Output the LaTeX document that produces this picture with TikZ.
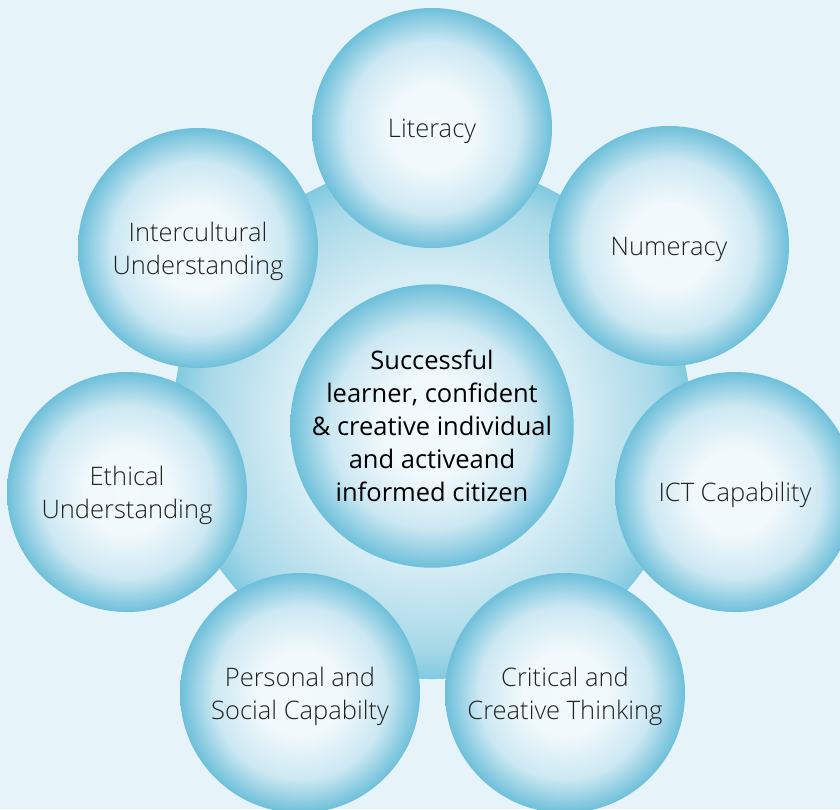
\documentclass[tikz,border=0pt]{standalone}
\usepackage{fontspec}
\setmainfont{Open Sans}
\newfontfamily\lightfont{Open Sans Light}
\definecolor{bg}{HTML}{E6F3F9}
\definecolor{txt}{HTML}{222222}
\pgfdeclareradialshading{bubble}{\pgfpointorigin}{rgb(0bp)=(0.95,0.98,0.99); rgb(9bp)=(0.94,0.975,0.985); rgb(18bp)=(0.80,0.91,0.95); rgb(25bp)=(0.43,0.75,0.855); rgb(50bp)=(0.43,0.75,0.855)}
\pgfdeclareradialshading{bigbubble}{\pgfpointorigin}{rgb(0bp)=(0.90,0.96,0.98); rgb(14bp)=(0.84,0.93,0.96); rgb(22bp)=(0.66,0.85,0.91); rgb(25bp)=(0.50,0.79,0.88); rgb(50bp)=(0.50,0.79,0.88)}
\tikzset{
  outer/.style={circle, inner sep=0pt, minimum size=240pt, shading=bubble},
  hub/.style={circle, inner sep=0pt, minimum size=280pt, shading=bubble, align=center, text=black, font=\fontsize{25.5}{33}\selectfont},
  base/.style={circle, inner sep=0pt, minimum size=518pt, shading=bigbubble},
  lbl/.style={align=center, inner sep=0pt, yshift=-3pt, text=txt, font=\lightfont\fontsize{25.5}{33}\selectfont}
}
\begin{document}
\begin{tikzpicture}[x=1pt,y=-1pt]
\fill[bg] (0,0) rectangle (840,809);
\useasboundingbox (0,0) rectangle (840,809);
\node[base] (base) at (432,420) {};
\node[hub] (hub) at (432,426) {Successful\\learner, confident\\\& creative individual\\and activeand\\informed citizen};
\node[outer, label={[lbl]center:Literacy}] (lit) at (432,128) {};
\node[outer, label={[lbl]center:Numeracy}] (num) at (669,246) {};
\node[outer, label={[lbl]center:ICT Capability}] (ict) at (735,492) {};
\node[outer, label={[lbl]center:{Critical and\\Creative Thinking}}] (crit) at (565,693) {};
\node[outer, label={[lbl]center:{Personal and\\Social Capabilty}}] (pers) at (300,693) {};
\node[outer, label={[lbl]center:{Ethical\\Understanding}}] (eth) at (127,492) {};
\node[outer, label={[lbl]center:{Intercultural\\Understanding}}] (inter) at (198,248) {};
\end{tikzpicture}
\end{document}
